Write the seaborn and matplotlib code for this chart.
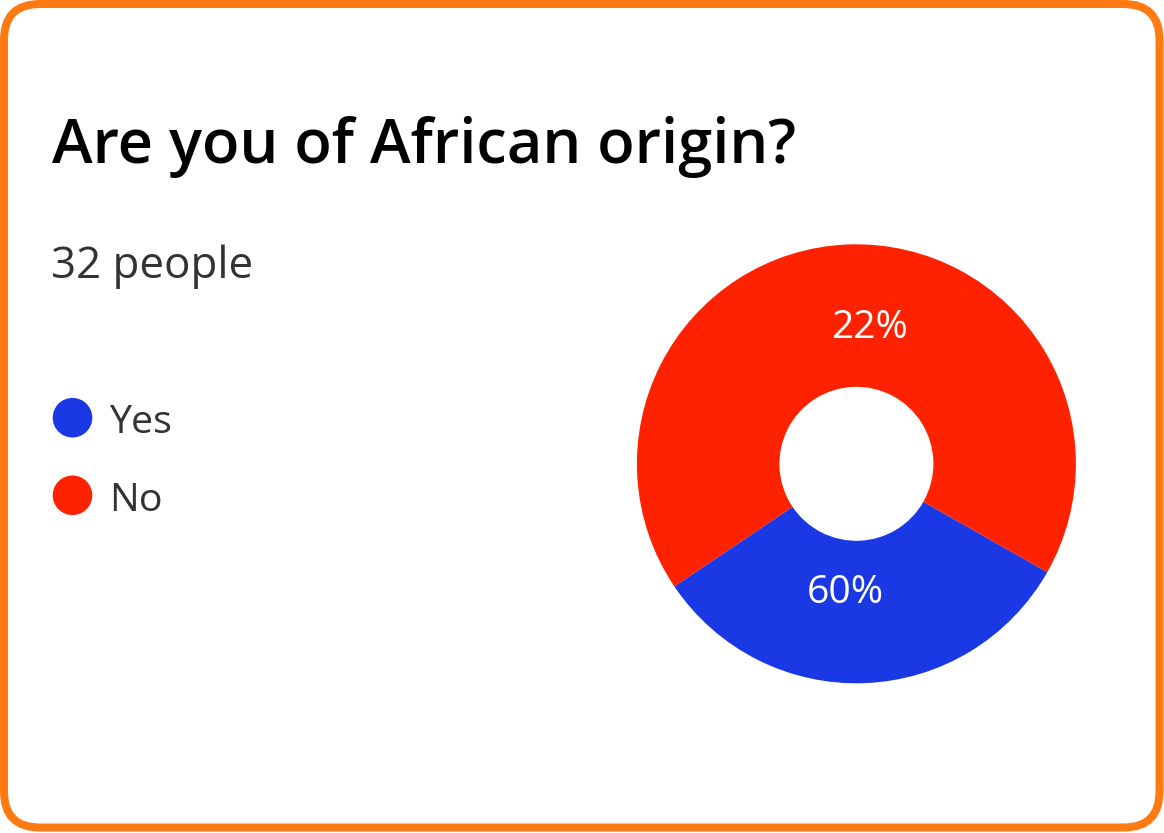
import numpy as np
import matplotlib
matplotlib.use("Agg")
import matplotlib.pyplot as plt
import seaborn as sns
from matplotlib.patches import FancyBboxPatch, Circle
from matplotlib.transforms import IdentityTransform

# ---- data ----
categories = ["Yes", "No"]
shares = [32.35, 67.65]          # wedge sizes (percent of circle)
shown_labels = ["60%", "22%"]    # labels as printed on the chart
title = "Are you of African origin?"
subtitle = "32 people"

sns.set_theme(style="white")
plt.rcParams['font.family'] = ['Open Sans', 'DejaVu Sans']

colors = ["#1a38e4", "#ff2200"]
W, H, DPI = 1164, 833, 100
fig = plt.figure(figsize=(W / DPI, H / DPI), dpi=DPI)
fig.patch.set_facecolor("white")

def fx(px):
    return px / W

def fy(py):
    return (H - py) / H

# rounded orange frame (pixel coordinates)
frame = FancyBboxPatch((4, 5.5), 1155.5, 823.5,
                       boxstyle="round,pad=0,rounding_size=36",
                       transform=IdentityTransform(), facecolor="none",
                       edgecolor="#ff7a12", linewidth=8 * 72 / DPI)
fig.add_artist(frame)

# title & subtitle
fig.text(fx(52), fy(163.3), title, fontsize=44.2, fontweight="semibold",
         color="#000000", ha="left", va="baseline")
fig.text(fx(51), fy(278.3), subtitle, fontsize=31.6, color="#333333",
         ha="left", va="baseline")

# legend
for i, (lab, col) in enumerate(zip(categories, colors)):
    cy = 417.7 + i * 77.6
    fig.add_artist(Circle((72.5, H - cy), 19.8, transform=IdentityTransform(),
                          facecolor=col, edgecolor="none"))
    fig.text(fx(109), fy(cy + 15.6), lab, fontsize=28.4, color="#333333",
             ha="left", va="baseline")

# donut
cx, cyc, R = 856.4, 463.8, 219.5
ax = fig.add_axes([fx(cx - R), fy(cyc + R), 2 * R / W, 2 * R / H])
wedges, _ = ax.pie(shares, colors=colors, startangle=213.97, counterclock=True,
                   radius=1.0, wedgeprops=dict(width=1 - 77 / 219.5, linewidth=0))
ax.set_xlim(-1, 1)
ax.set_ylim(-1, 1)
ax.set_aspect("equal")
ax.axis("off")

label_offset_deg = [-6.7, -8.2]
label_r = [0.6375, 0.575]
for w, txt, off, r in zip(wedges, shown_labels, label_offset_deg, label_r):
    ang = np.deg2rad((w.theta1 + w.theta2) / 2 + off)
    ax.text(r * np.cos(ang), r * np.sin(ang), txt, fontsize=28.2, color="white",
            fontweight="medium", ha="center", va="baseline")

fig.savefig("out.png", dpi=DPI, facecolor="white")
